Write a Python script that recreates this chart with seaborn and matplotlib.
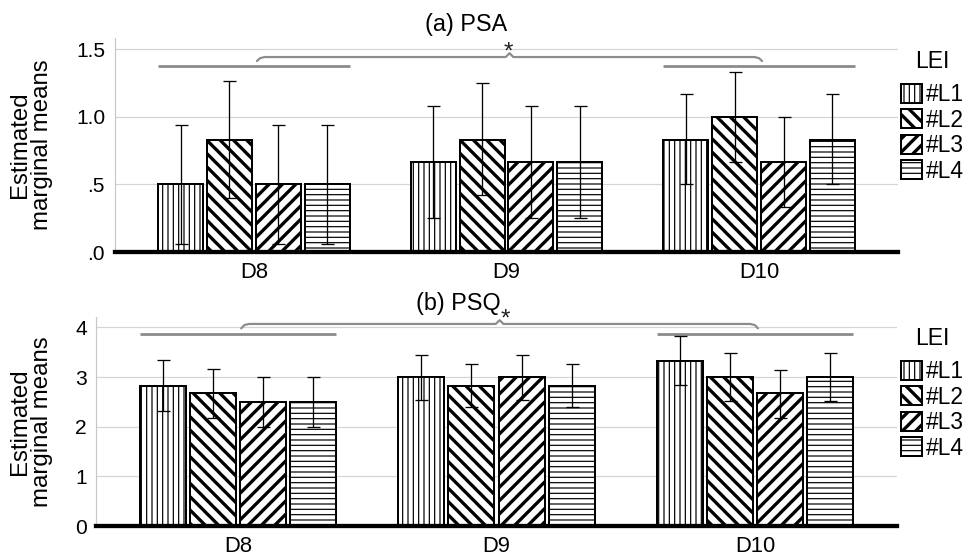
import numpy as np
import pandas as pd
import matplotlib
matplotlib.use("Agg")
import matplotlib.pyplot as plt
from matplotlib.patches import Patch
from matplotlib.container import BarContainer
import seaborn as sns

# ---------------- data ----------------
days = ["D8", "D9", "D10"]
levels = ["#L1", "#L2", "#L3", "#L4"]

psa_mean = {"#L1": [0.50, 0.667, 0.833], "#L2": [0.833, 0.833, 1.00],
            "#L3": [0.50, 0.667, 0.667], "#L4": [0.50, 0.667, 0.833]}
psa_lo = {"#L1": [0.06, 0.25, 0.50], "#L2": [0.40, 0.42, 0.67],
          "#L3": [0.06, 0.25, 0.33], "#L4": [0.06, 0.25, 0.50]}
psa_hi = {"#L1": [0.94, 1.08, 1.17], "#L2": [1.27, 1.25, 1.33],
          "#L3": [0.94, 1.08, 1.00], "#L4": [0.94, 1.08, 1.17]}

psq_mean = {"#L1": [2.83, 3.00, 3.33], "#L2": [2.67, 2.83, 3.00],
            "#L3": [2.50, 3.00, 2.67], "#L4": [2.50, 2.83, 3.00]}
psq_lo = {"#L1": [2.32, 2.54, 2.84], "#L2": [2.18, 2.39, 2.51],
          "#L3": [2.00, 2.54, 2.18], "#L4": [2.00, 2.39, 2.51]}
psq_hi = {"#L1": [3.34, 3.44, 3.82], "#L2": [3.17, 3.27, 3.49],
          "#L3": [3.00, 3.44, 3.15], "#L4": [3.00, 3.27, 3.49]}

psa_ticks = [0, 0.5, 1.0, 1.5]
psa_ticklabels = [".0", ".5", "1.0", "1.5"]
psq_ticks = [0, 1, 2, 3, 4]
psq_ticklabels = ["0", "1", "2", "3", "4"]

hatches = {"#L1": "|||||", "#L2": "\\\\\\\\", "#L3": "////", "#L4": "-----"}

# ---------------- style ----------------
DPI = 160
W, H = 968, 556
def pt(v):  # pixels -> points
    return v * 72.0 / DPI

sns.set_theme(style="white")
plt.rcParams["font.family"] = ["Liberation Sans", "DejaVu Sans"]
plt.rcParams["hatch.linewidth"] = pt(1.2)
plt.rcParams["hatch.color"] = "black"
plt.rcParams["text.color"] = "black"
plt.rcParams["axes.labelcolor"] = "black"

fig = plt.figure(figsize=(W / DPI, H / DPI), dpi=DPI)

def hatch_lw(lv):
    return pt(3.3) if lv in ("#L2", "#L3") else pt(1.2)

def frame(df_mean, df_lo, df_hi):
    rows = []
    for lv in levels:
        for i, d in enumerate(days):
            rows.append({"day": d, "lei": lv, "mean": df_mean[lv][i],
                         "lo": df_lo[lv][i], "hi": df_hi[lv][i]})
    return pd.DataFrame(rows)

def panel(rect, dfm, dfl, dfh, ylim, ticks, ticklabels, title, title_x,
          ylabel_x, ytick_pad, line_y, bracket_y, star_xy_px):
    ax = fig.add_axes(rect)
    df = frame(dfm, dfl, dfh)
    sns.barplot(data=df, x="day", y="mean", hue="lei", order=days,
                hue_order=levels, palette={l: "white" for l in levels},
                width=0.775, gap=0.08, errorbar=None, edgecolor="black",
                linewidth=pt(2.0), legend=False, ax=ax, zorder=2, saturation=1)
    bars = [c for c in ax.containers if isinstance(c, BarContainer)]
    for cont, lv in zip(bars, levels):
        xs = []
        for p in cont.patches:
            p.set_hatch(hatches[lv])
            if hasattr(p, "set_hatch_linewidth"):
                p.set_hatch_linewidth(hatch_lw(lv))
            xs.append(p.get_x() + p.get_width() / 2)
        sub = df[df.lei == lv].set_index("day").loc[days]
        m = sub["mean"].values
        ax.errorbar(xs, m, yerr=[m - sub["lo"].values, sub["hi"].values - m],
                    fmt="none", ecolor="black", elinewidth=pt(1.3),
                    capsize=pt(6.5), capthick=pt(1.3), zorder=4)
    ax.set_xlim(-0.55, 2.55)
    ax.set_ylim(*ylim)
    ax.set_yticks(ticks)
    ax.set_yticklabels(ticklabels)
    ax.grid(axis="y", color="#d4d4d4", linewidth=pt(1.2), zorder=0)
    ax.set_axisbelow(True)
    for s in ["top", "right"]:
        ax.spines[s].set_visible(False)
    ax.spines["left"].set_color("#c8c8c8")
    ax.spines["left"].set_linewidth(pt(1.2))
    ax.spines["bottom"].set_color("black")
    ax.spines["bottom"].set_linewidth(pt(4.3))
    ax.spines["bottom"].set_zorder(5)
    ax.tick_params(axis="both", length=0)
    ax.tick_params(axis="y", labelsize=pt(21), pad=pt(ytick_pad), colors="black")
    ax.tick_params(axis="x", labelsize=pt(22), pad=pt(10), colors="black")
    ax.set_xlabel("")
    ax.set_ylabel("Estimated\nmarginal means", fontsize=pt(24), linespacing=1.0,
                  color="black")
    ax.yaxis.set_label_coords(ylabel_x, 0.5)
    ax.set_title(title, fontsize=pt(23.4), x=title_x, pad=pt(7), color="black")

    # significance annotations
    gray = "#8c8c8c"
    for gi in (0, 2):
        left = bars[0].patches[gi].get_x()
        right = bars[-1].patches[gi].get_x() + bars[-1].patches[gi].get_width()
        ax.plot([left, right], [line_y, line_y], color=gray, lw=pt(2.8),
                solid_capstyle="butt", clip_on=False, zorder=3)
    x0, x1, xm = 0, 2, 1
    yr = ylim[1] - ylim[0]
    h = 0.018 * yr
    dx = 0.03
    bx = [x0, x0 + dx * 0.4, x0 + dx, xm - dx * 0.5, xm, xm + dx * 0.5,
          x1 - dx, x1 - dx * 0.4, x1]
    by = [line_y + (bracket_y - line_y) * 0.55, bracket_y - h * 0.3, bracket_y,
          bracket_y, bracket_y + h, bracket_y, bracket_y, bracket_y - h * 0.3,
          line_y + (bracket_y - line_y) * 0.55]
    bx = [v + 0.012 for v in bx]
    ax.plot(bx, by, color=gray, lw=pt(2.2), clip_on=False, zorder=3,
            solid_joinstyle="round")
    fig.text(star_xy_px[0] / W, 1 - star_xy_px[1] / H, "*", ha="center",
             va="center", fontsize=pt(24), color="#222222")
    return ax

def legend_handles():
    hs = []
    for l in levels:
        p = Patch(facecolor="white", edgecolor="black", hatch=hatches[l],
                  linewidth=pt(2.0), label=l)
        if hasattr(p, "set_hatch_linewidth"):
            p.set_hatch_linewidth(hatch_lw(l))
        hs.append(p)
    return hs

# panel geometry (pixels)
L1, R1, T1, B1 = 115, 898, 38, 252
L2, R2, T2, B2 = 96, 897, 317, 526

ax1 = panel([L1 / W, 1 - B1 / H, (R1 - L1) / W, (B1 - T1) / H],
            psa_mean, psa_lo, psa_hi, (0, 1.585), psa_ticks,
            psa_ticklabels, "(a) PSA", (466 - L1) / (R1 - L1),
            (53 - L1) / (R1 - L1), 10, 1.378, 1.444, (508, 53))
ax2 = panel([L2 / W, 1 - B2 / H, (R2 - L2) / W, (B2 - T2) / H],
            psq_mean, psq_lo, psq_hi, (0, 4.21), psq_ticks,
            psq_ticklabels, "(b) PSQ", (458 - L2) / (R2 - L2),
            (53 - L2) / (R2 - L2), 9, 3.87, 4.07, (505, 320))

for top in (50, 327):
    leg = fig.legend(handles=legend_handles(), title="LEI", loc="upper left",
                     bbox_to_anchor=(901 / W, 1 - top / H), frameon=False,
                     fontsize=pt(22.8), title_fontsize=pt(23),
                     handlelength=0.92, handleheight=0.9, labelspacing=0.11,
                     handletextpad=0.18, borderpad=0, borderaxespad=0)
    leg._legend_box.sep = pt(10)
    for hnd, l in zip(leg.legend_handles, levels):
        hnd.set_hatch(hatches[l])
        if hasattr(hnd, "set_hatch_linewidth"):
            hnd.set_hatch_linewidth(hatch_lw(l))

fig.savefig("out.png", dpi=DPI)
